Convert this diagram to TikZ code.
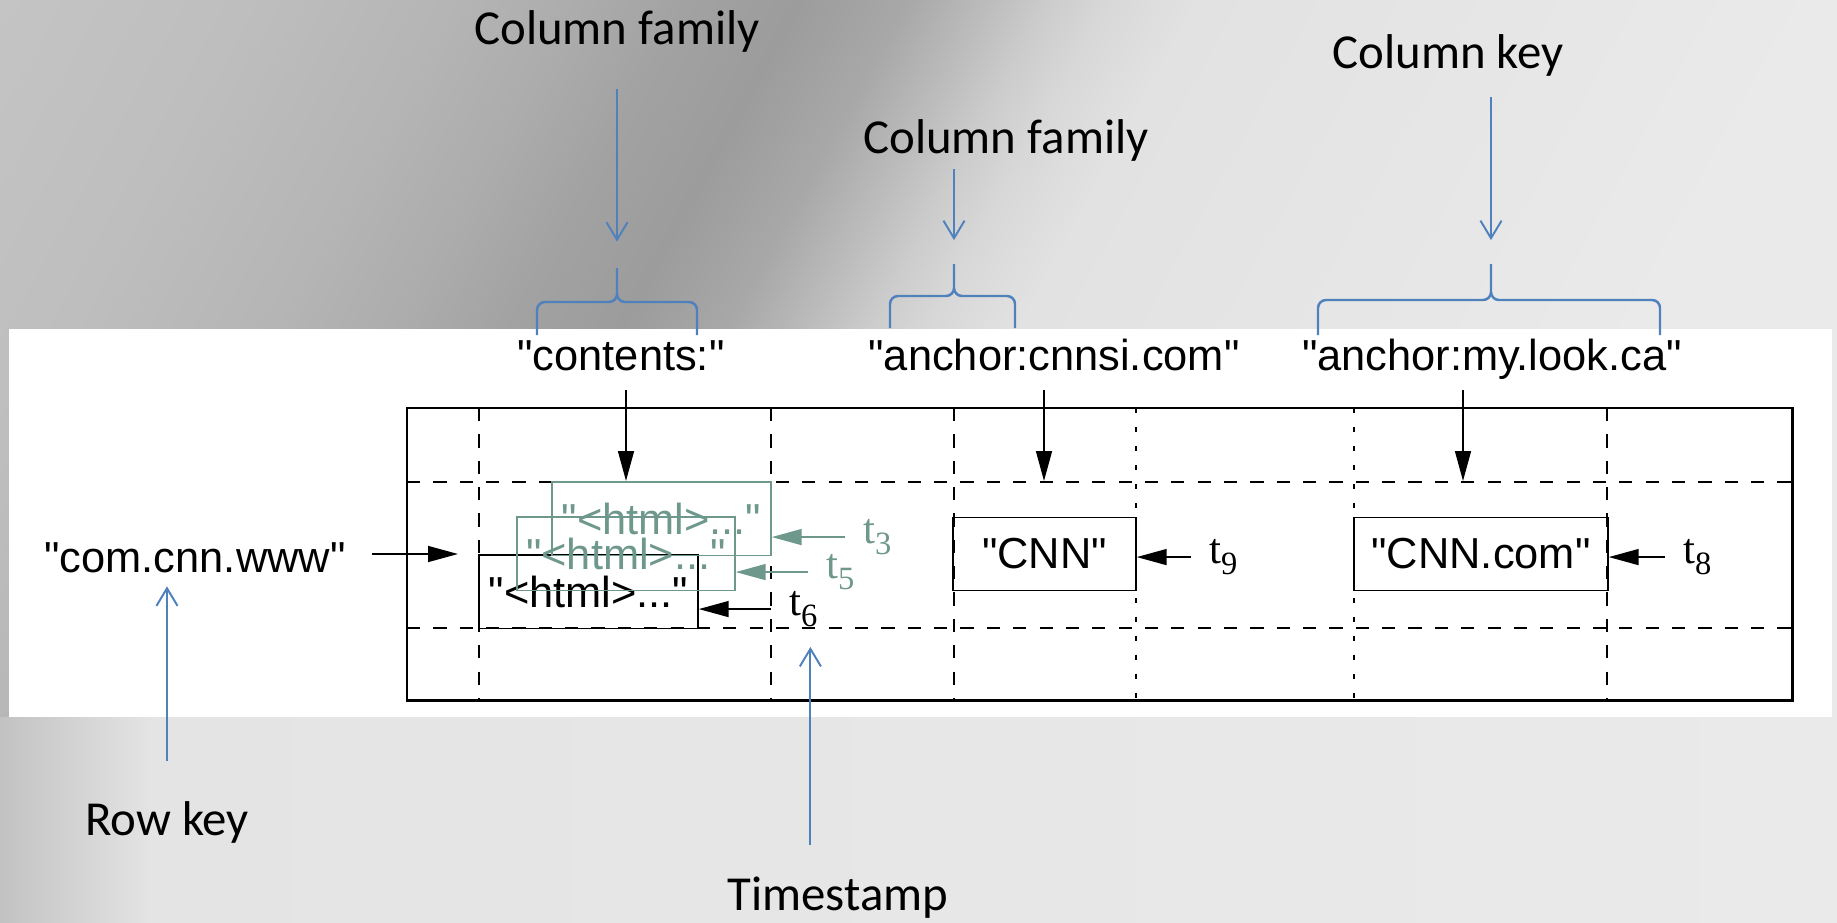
\documentclass[tikz,border=0pt]{standalone}
\usepackage{fontspec}
\setmainfont{Liberation Sans}[Ligatures=TeXOff]
\newfontfamily\notefont{Carlito}
\newfontfamily\stampfont{Liberation Serif}
\usetikzlibrary{arrows.meta}

\definecolor{noteblue}{HTML}{4F81BD}
\definecolor{oldgreen}{HTML}{6F988D}
\definecolor{bgA}{HTML}{C4C4C4}
\definecolor{bgB}{HTML}{BEBEBE}
\definecolor{bgC}{HTML}{B5B5B5}
\definecolor{bgD}{HTML}{ACACAC}
\definecolor{bgE}{HTML}{A2A2A2}
\definecolor{bgF}{HTML}{9C9C9C}
\definecolor{bgG}{HTML}{A8A8A8}
\definecolor{bgH}{HTML}{BCBCBC}
\definecolor{bgI}{HTML}{CCCCCC}
\definecolor{bgJ}{HTML}{D8D8D8}
\definecolor{bgK}{HTML}{E2E2E2}
\definecolor{bgL}{HTML}{EAEAEA}
\definecolor{flA}{HTML}{C2C2C2}
\definecolor{flB}{HTML}{E4E4E4}

% slide background
\pgfdeclarehorizontalshading{slidebg}{100bp}{color(0bp)=(bgA); color(25bp)=(bgA);
  color(30.3bp)=(bgB); color(34.6bp)=(bgC); color(37.4bp)=(bgD); color(39.7bp)=(bgE);
  color(42.1bp)=(bgF); color(44.4bp)=(bgG); color(46.1bp)=(bgH); color(47.4bp)=(bgI);
  color(48.7bp)=(bgJ); color(50.6bp)=(bgK); color(64.2bp)=(bgL); color(100bp)=(bgL)}
\pgfdeclarehorizontalshading{floorbg}{100bp}{color(0bp)=(flA); color(25bp)=(flA);
  color(29.1bp)=(flB); color(75bp)=(bgL); color(100bp)=(bgL)}

\newcommand{\cellfont}{\fontsize{24.7}{28}\selectfont}
\newcommand{\tstamp}[1]{{\stampfont\fontsize{24.4}{28}\selectfont t\raisebox{-6.8pt}{\fontsize{18.5}{20}\selectfont #1}}}
% #1 left, #2 tip, #3 right, #4 tip y, #5 bar y, #6 foot y
\newcommand{\colbrace}[6]{%
  \draw[notebrace] (#1,#6) -- (#1,#5+8) to[out=90,in=180] (#1+8,#5) -- (#2-8,#5)
    to[out=0,in=-90] (#2,#5-8) -- (#2,#4)
    (#2,#4) -- (#2,#5-8) to[out=-90,in=180] (#2+8,#5) -- (#3-8,#5)
    to[out=0,in=90] (#3,#5+8) -- (#3,#6);}

\begin{document}
\begin{tikzpicture}[x=0.02cm,y=-0.02cm,
    grid/.style={line width=0.85pt,dash pattern=on 7.5pt off 7.5pt},
    gridfine/.style={line width=0.85pt,dash pattern=on 2.8pt off 8pt},
    cell/.style={draw,line width=0.85pt,inner sep=0pt,minimum height=1.47cm,font=\cellfont},
    oldcell/.style={cell,draw=oldgreen,text=oldgreen},
    colname/.style={inner sep=0pt,anchor=base,text depth=11.3pt,font=\cellfont},
    stampnode/.style={inner xsep=10.2pt,inner ysep=0pt,anchor=base west},
    pointer/.style={line width=1.1pt,-{Triangle[length=17pt,width=9pt]}},
    note/.style={inner sep=0pt,anchor=base,text height=22pt,text depth=0pt,
      font=\notefont\fontsize{27.8}{32}\selectfont},
    notearrow/.style={noteblue,line width=1.1pt,-{Straight Barb[length=10pt,width=12pt]}},
    notebrace/.style={noteblue,line width=1.4pt}]
    \useasboundingbox (0,0) rectangle (1837,923);
    \begin{scope}
      \clip (0,0) rectangle (1837,923);
      \begin{scope}[transform canvas={xslant=0.547}]
        \shade[shading=slidebg] (0,0) rectangle (2342,923);
      \end{scope}
    \end{scope}
    \shade[shading=floorbg] (0,717) rectangle (1837,923);
    \fill[white] (9,329) rectangle (1832,717);

    % the table
    \draw[grid] (407,482) -- (1792,482) (407,628) -- (1792,628);
    \foreach \x in {479,771,954,1607}
      \draw[grid] (\x,408) -- (\x,700);
    \foreach \x in {1136,1354}
      \draw[gridfine] (\x,408) -- (\x,700);
    \draw[line width=1.7pt] (407,408) rectangle (1792,700);

    \node[cell,minimum width=4.38cm] (v6) at (588.5,591.5) {"<html>..."};
    \node[oldcell,minimum width=4.36cm] (v5) at (626,553.5) {"<html>..."};
    \node[oldcell,minimum width=4.38cm] (v3) at (661.5,518.5) {"<html>..."};
    \node[cell,minimum width=3.66cm] (cnn) at (1044.5,554) {"CNN"};
    \node[cell,minimum width=5.08cm] (cnncom) at (1481,554) {"CNN.com"};

    \node[colname] (cont) at (621,370) {"contents:"};
    \node[colname] (cnnsi) at (1054,370) {"anchor:cnnsi.com"};
    \node[colname] (mylook) at (1492,370) {"anchor:my.look.ca"};
    \node[colname,text depth=0pt,inner xsep=14.7pt,inner ysep=8pt] (rowval) at (195,572) {"com.cnn.www"};

    \coordinate (conttip) at (626,481);
    \coordinate (cnnsitip) at (1044,481);
    \coordinate (myloktip) at (1463,481);
    \coordinate (rowtip) at (458,554);
    \draw[pointer] (cont.south -| conttip) -- (conttip);
    \draw[pointer] (cnnsi.south -| cnnsitip) -- (cnnsitip);
    \draw[pointer] (mylook.south -| myloktip) -- (myloktip);
    \draw[pointer] (rowval.east |- rowtip) -- (rowtip);

    \node[stampnode,text=oldgreen] (t3) at (845,543) {\tstamp{3}};
    \node[stampnode,text=oldgreen] (t5) at (808,578) {\tstamp{5}};
    \node[stampnode] (t6) at (771,615) {\tstamp{6}};
    \node[stampnode] (t9) at (1191,563) {\tstamp{9}};
    \node[stampnode] (t8) at (1665,563) {\tstamp{8}};
    \draw[pointer,oldgreen] (t3.west) -- (t3.west -| v3.east);
    \draw[pointer,oldgreen] (t5.west) -- (t5.west -| v5.east);
    \draw[pointer] (t6.west) -- (t6.west -| v6.east);
    \draw[pointer] (t9.west) -- (t9.west -| cnn.east);
    \draw[pointer] (t8.west) -- (t8.west -| cnncom.east);

    % notes on the slide
    \node[note] (cfam1) at (617,44) {Column family};
    \node[note] (cfam2) at (1006,153) {Column family};
    \node[note] (ckey) at (1448,68) {Column key};
    \node[note] (rowkey) at (167,835) {Row key};
    \node[note] (tstamp) at (838,910) {Timestamp};

    \colbrace{537}{617}{697}{268}{302}{335}
    \colbrace{890}{954}{1015}{264}{296}{328}
    \colbrace{1318}{1491}{1660}{264}{300}{335}
    \coordinate (b1) at (617,268);
    \coordinate (b2) at (954,264);
    \coordinate (b3) at (1491,264);

    \draw[notearrow,shorten <=25.5pt,shorten >=15pt] (cfam1.south -| b1) -- (b1);
    \draw[notearrow,shorten <=9pt,shorten >=13.6pt] (cfam2.south -| b2) -- (b2);
    \draw[notearrow,shorten <=16.4pt,shorten >=13.6pt] (ckey.south -| b3) -- (b3);
    \draw[notearrow,shorten <=19.8pt] (rowkey.north) -- (rowkey.north |- rowval.south);
    \draw[notearrow,shorten <=14.7pt,shorten >=11pt] ([xshift=4pt]tstamp.north -| t6.south) -- ([xshift=4pt]t6.south);
\end{tikzpicture}
\end{document}
